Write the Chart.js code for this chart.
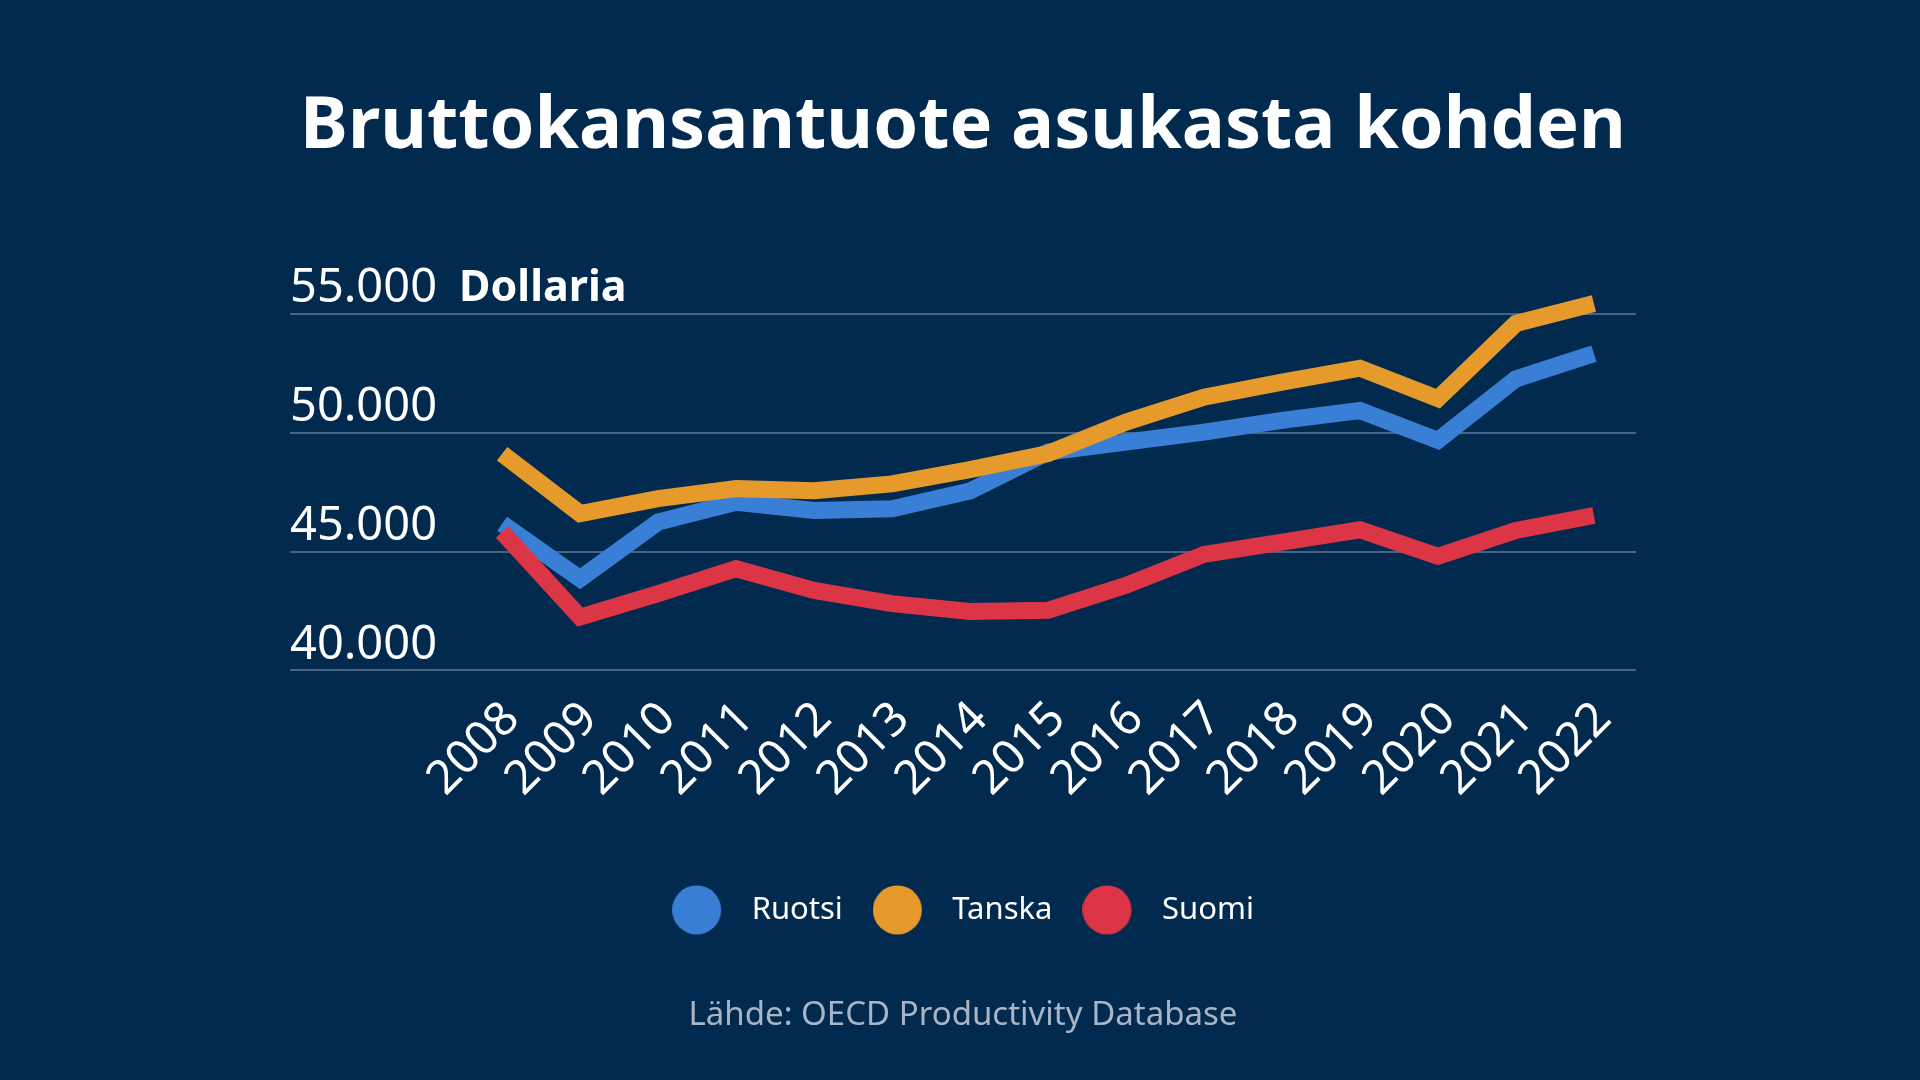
<!DOCTYPE html>
<html lang="fi">
<head>
<meta charset="utf-8">
<title>Bruttokansantuote asukasta kohden</title>
<script src="https://cdn.jsdelivr.net/npm/chart.js@4.4.1/dist/chart.umd.min.js"></script>
<style>
  html, body { margin: 0; padding: 0; background: #022a4f; }
  #wrap { width: 1920px; height: 1080px; }
</style>
</head>
<body>
<div id="wrap"><canvas id="gdpChart" width="1920" height="1080"></canvas></div>
<script>
// Values (USD per capita)
const years = [2008, 2009, 2010, 2011, 2012, 2013, 2014, 2015, 2016, 2017, 2018, 2019, 2020, 2021, 2022];
const ruotsi = [46170, 43860, 46240, 47080, 46730, 46800, 47550, 49190, 49610, 50030, 50520, 50940, 49680, 52270, 53330];
const tanska = [49120, 46600, 47230, 47650, 47560, 47850, 48450, 49130, 50450, 51500, 52130, 52720, 51440, 54600, 55440];
const suomi = [45820, 42240, 43230, 44280, 43370, 42810, 42480, 42530, 43580, 44880, 45400, 45920, 44800, 45890, 46520];
const yTicks = [40000, 45000, 50000, 55000];
const seriesNames = ['Ruotsi', 'Tanska', 'Suomi'];

const FONT = '"Noto Sans", "Open Sans", sans-serif';
const COLORS = ['#3a7fd6', '#e59a2b', '#dc3545'];

// Legend dots: drawn as small canvases so the gap to the text matches
function makeDot(color) {
    const c = document.createElement('canvas');
    c.width = 64;
    c.height = 50;
    const g = c.getContext('2d');
    g.fillStyle = color;
    g.beginPath();
    g.arc(24.5, 25, 24.5, 0, Math.PI * 2);
    g.fill();
    return c;
}
const dots = COLORS.map(makeDot);

// "Dollaria" next to the top tick label
const unitLabel = {
    id: 'unitLabel',
    afterDraw(chart) {
        const { ctx, chartArea, scales: { y } } = chart;
        ctx.save();
        ctx.font = 'bold 43px ' + FONT;
        ctx.fillStyle = '#ffffff';
        ctx.textBaseline = 'middle';
        ctx.fillText('Dollaria', chartArea.left + 169, y.getPixelForValue(55000) - 25);
        ctx.restore();
    }
};

function toPoints(values) {
    return years.map((yr, i) => ({ x: yr, y: values[i] }));
}

const ctx = document.getElementById('gdpChart').getContext('2d');
new Chart(ctx, {
    type: 'line',
    data: {
        datasets: [
            { label: seriesNames[0], data: toPoints(ruotsi), borderColor: COLORS[0], order: 3 },
            { label: seriesNames[1], data: toPoints(tanska), borderColor: COLORS[1], order: 2 },
            { label: seriesNames[2], data: toPoints(suomi), borderColor: COLORS[2], order: 1 }
        ]
    },
    options: {
        responsive: false,
        animation: false,
        devicePixelRatio: 1,
        layout: { padding: { left: 290, right: 284, top: 84, bottom: 45 } },
        elements: {
            line: { borderWidth: 17, tension: 0, fill: false },
            point: { radius: 0, hoverRadius: 0 }
        },
        datasets: { line: { clip: false } },
        plugins: {
            tooltip: { enabled: false },
            title: {
                display: true,
                text: 'Bruttokansantuote asukasta kohden',
                color: '#ffffff',
                font: { family: FONT, size: 72, weight: 'bold', lineHeight: 1.2 },
                padding: { top: 0, bottom: 143.6 }
            },
            subtitle: {
                display: true,
                position: 'bottom',
                text: 'Lähde: OECD Productivity Database',
                color: '#a9b5c6',
                font: { family: FONT, size: 33, lineHeight: 1.2 },
                padding: { top: 60, bottom: 0 }
            },
            legend: {
                position: 'bottom',
                labels: {
                    usePointStyle: true,
                    pointStyleWidth: 64,
                    padding: 30,
                    color: '#ffffff',
                    font: { family: FONT, size: 31 },
                    generateLabels(chart) {
                        const items = Chart.defaults.plugins.legend.labels.generateLabels(chart);
                        items.forEach(it => { it.pointStyle = dots[it.datasetIndex]; });
                        return items;
                    },
                    sort: (a, b) => a.datasetIndex - b.datasetIndex
                }
            }
        },
        scales: {
            x: {
                type: 'linear',
                min: 2005.28,
                max: 2022.54,
                grid: { display: false },
                border: { display: false },
                afterBuildTicks: scale => { scale.ticks = years.map(v => ({ value: v })); },
                afterFit: scale => { scale.height = 194; },
                ticks: {
                    autoSkip: false,
                    minRotation: 45,
                    maxRotation: 45,
                    padding: 13,
                    labelOffset: 10,
                    color: '#ffffff',
                    font: { family: FONT, size: 47 },
                    callback: v => String(v)
                }
            },
            y: {
                min: 40000,
                max: 55000,
                afterBuildTicks: scale => { scale.ticks = yTicks.map(v => ({ value: v })); },
                grid: { color: 'rgba(150,172,200,0.45)', lineWidth: 2, drawTicks: false },
                border: { display: false },
                ticks: {
                    mirror: true,
                    padding: 0,
                    labelOffset: -25,
                    color: '#ffffff',
                    font: { family: FONT, size: 47 },
                    callback: v => v.toLocaleString('de-DE')
                }
            }
        }
    },
    plugins: [unitLabel]
});
</script>
</body>
</html>
